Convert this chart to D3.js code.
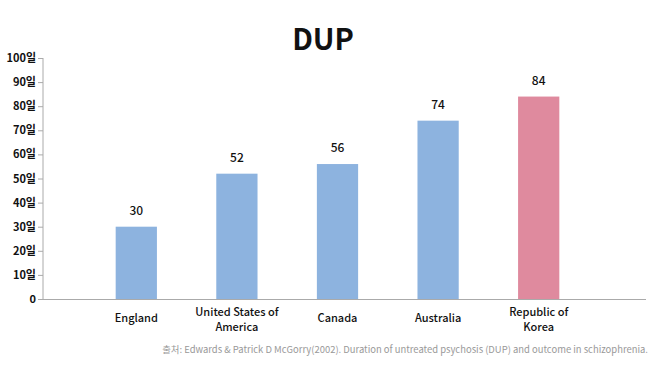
<!DOCTYPE html>
<html><head><meta charset="utf-8">
<script src="https://cdn.jsdelivr.net/npm/d3@7"></script>
<style>body{margin:0;background:#fff}svg{display:block;font-family:"Noto Sans CJK KR","Noto Sans",sans-serif}</style>
</head><body><svg id="c" width="659" height="369"></svg>
<script>
const categories = [["England"], ["United States of", "America"], ["Canada"], ["Australia"], ["Republic of", "Korea"]];
const values = [30, 52, 56, 74, 84];
const barColors = ["#8db3df", "#8db3df", "#8db3df", "#8db3df", "#df8a9e"];
const yTicks = [0, 10, 20, 30, 40, 50, 60, 70, 80, 90, 100];
const yTickLabels = ["0", "10일", "20일", "30일", "40일", "50일", "60일", "70일", "80일", "90일", "100일"];
const title = "DUP";
const source = "출처: Edwards & Patrick D McGorry(2002). Duration of untreated psychosis (DUP) and outcome in schizophrenia.";

const svg = d3.select("#c");
const x = d3.scaleBand().domain(d3.range(values.length)).range([86, 589]).paddingInner(0.59).paddingOuter(0.295);
const y = d3.scaleLinear().domain([0, 100]).range([299, 58]);

svg.append("text").attr("x", 323).attr("y", 50).attr("text-anchor", "middle")
  .attr("font-size", 29).attr("font-weight", 700).attr("fill", "#111").text(title);

// y axis
const ya = svg.append("g").attr("transform", "translate(43,0)")
  .call(d3.axisLeft(y).tickValues(yTicks).tickSize(5).tickFormat((d, i) => yTickLabels[i]));
ya.select(".domain").attr("stroke", "#aaa").attr("d", `M0,${y(100)}V${y(0)}`);
ya.selectAll(".tick line").attr("stroke", "#aaa");
ya.selectAll(".tick text").attr("font-size", 11).attr("font-weight", 700).attr("fill", "#111")
  .attr("font-family", "\"Noto Sans CJK KR\",sans-serif").attr("x", -7);

// x axis line
svg.append("line").attr("x1", 43).attr("x2", 646).attr("y1", y(0) + 0.5).attr("y2", y(0) + 0.5).attr("stroke", "#aaa");

// bars
svg.selectAll("rect.bar").data(values).join("rect").attr("class", "bar")
  .attr("x", (d, i) => x(i)).attr("width", x.bandwidth())
  .attr("y", d => y(d)).attr("height", d => y(0) - y(d))
  .attr("fill", (d, i) => barColors[i]);

// value labels
svg.selectAll("text.val").data(values).join("text").attr("class", "val")
  .attr("x", (d, i) => x(i) + x.bandwidth() / 2).attr("y", d => y(d) - 12)
  .attr("text-anchor", "middle").attr("font-size", 12).attr("font-weight", 500).attr("fill", "#111")
  .text(d => d);

// category labels
const cg = svg.selectAll("text.cat").data(categories).join("text").attr("class", "cat")
  .attr("text-anchor", "middle").attr("font-size", 11).attr("font-weight", 500).attr("fill", "#111");
cg.each(function (lines, i) {
  const t = d3.select(this);
  const cx = x(i) + x.bandwidth() / 2;
  const y0 = lines.length === 1 ? 322 : 316;
  lines.forEach((s, k) => t.append("tspan").attr("x", cx).attr("y", y0 + k * 15).text(s));
});

svg.append("text").attr("x", 648).attr("y", 353).attr("text-anchor", "end")
  .attr("font-size", 9.45).attr("fill", "#999").text(source);
</script></body></html>
